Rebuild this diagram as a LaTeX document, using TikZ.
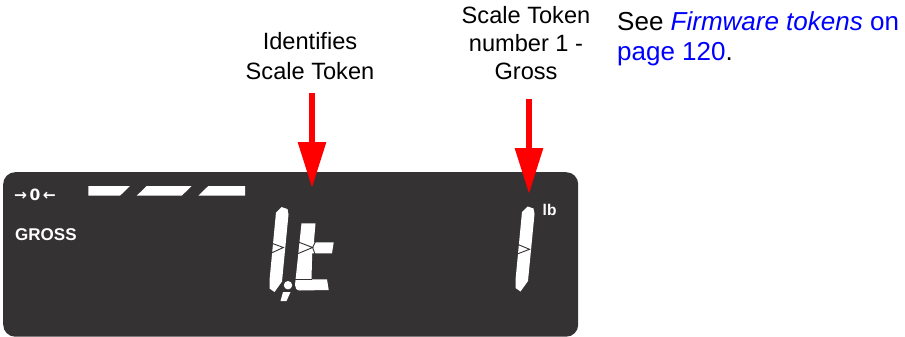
\documentclass[tikz,border=0pt]{standalone}
\usepackage{fontspec}
\setmainfont{Liberation Sans}
\newfontfamily\dvs{DejaVu Sans}
\usetikzlibrary{arrows.meta}
\definecolor{lcd}{HTML}{353233}
\definecolor{linkblue}{HTML}{0000FF}
\begin{document}
\begin{tikzpicture}[x=1pt,y=-1pt,
  lbl/.style={font=\fontsize{23.6}{28}\selectfont, anchor=base, inner sep=0pt},
  seetxt/.style={font=\fontsize{26}{30}\selectfont, anchor=base west, inner sep=0pt},
  pointer/.style={draw=red, line width=6pt, -{Triangle[length=46pt,width=27pt]}},
  seg/.style={fill=white, draw=none},
  gapline/.style={draw=lcd, line width=0.9pt},
  lcdtext/.style={text=white, inner sep=0pt, anchor=base west}]
\useasboundingbox (0,0) rectangle (905,337);

% display
\node[fill=lcd, rounded corners=12pt, minimum width=575pt, minimum height=164.5pt, inner sep=0pt, anchor=north west] (disp) at (3,172) {};

% labels
\node[lbl] (id1) at (310,50) {Identifies};
\node[lbl] (id2) at (310,79) {Scale Token};
\node[lbl] (st1) at (526,24) {Scale Token};
\node[lbl] (st2) at (526,52) {number 1 -};
\node[lbl] (st3) at (526,80) {Gross};
\node[seetxt] (see1) at (617,31) {See \textcolor{linkblue}{\textit{Firmware tokens} on}};
\node[seetxt] (see2) at (617,61) {\textcolor{linkblue}{page 120}.};

% LCD texts
\node[lcdtext, font=\dvs\bfseries\fontsize{15.5}{17}\selectfont] (zero) at (14,200) {→\hspace{2.4pt}0\hspace{2.4pt}←};
\node[lcdtext, font=\bfseries\fontsize{17}{20}\selectfont] (gross) at (15,240) {GROSS};
\node[lcdtext, font=\bfseries\fontsize{15.5}{18}\selectfont] (lb) at (542.5,215) {lb};

% top bars
\fill[seg] (88.3,186) -- (130,186) -- (120,195.7) -- (88.3,195.7) -- cycle;
\fill[seg] (146.7,186) -- (191.7,186) -- (181.7,195.7) -- (136.7,195.7) -- cycle;
\fill[seg] (208.3,186) -- (245,186) -- (245,195.7) -- (198.3,195.7) -- cycle;

% digit 1 with decimal point
\fill[seg, xshift=-246pt, yshift=-0.5pt] (522,212) -- (527.5,206.5) -- (533.5,208.5) -- (534.5,214) -- (528,281) -- (520.5,291.5) -- (515.5,288) -- (515.5,280) -- cycle;
\draw[gapline] (267,241.5) -- (283.4,247.5) -- (267,255);
\fill[seg] (288,285.2) circle[radius=4.2];
\fill[seg] (283,292) -- (290.5,292) -- (286.5,301) -- (280.5,301) -- cycle;

% digit t
\fill[seg] (301.5,223.3) -- (315.5,223.3) -- (313.9,242.3) -- (333.7,242.3) -- (332,253.3) -- (312.2,253.3)
  -- (311.5,279.3) -- (327,279.3) -- (328.7,290) -- (300,290.5) .. controls (296.5,290.5) and (295,288) .. (295,285) -- cycle;
\draw[gapline] (297,241.5) -- (312.6,247.5) -- (297,254);
\draw[gapline] (315.5,241.5) -- (312.6,247.5) -- (315,254);
\draw[gapline] (295,279.5) -- (311.6,279.5);

% digit 1 (right)
\fill[seg] (522,212) -- (527.5,206.5) -- (533.5,208.5) -- (534.5,214) -- (528,281) -- (520.5,291.5) -- (515.5,288) -- (515.5,280) -- cycle;
\draw[gapline] (512,242) -- (529.5,249.3) -- (512,256);

% pointers
\coordinate (p1s) at (312,93);
\coordinate (p1e) at (312,188);
\coordinate (p2s) at (529,99);
\coordinate (p2e) at (529,194);
\draw[pointer] (p1s) -- (p1e);
\draw[pointer] (p2s) -- (p2e);
\end{tikzpicture}
\end{document}
